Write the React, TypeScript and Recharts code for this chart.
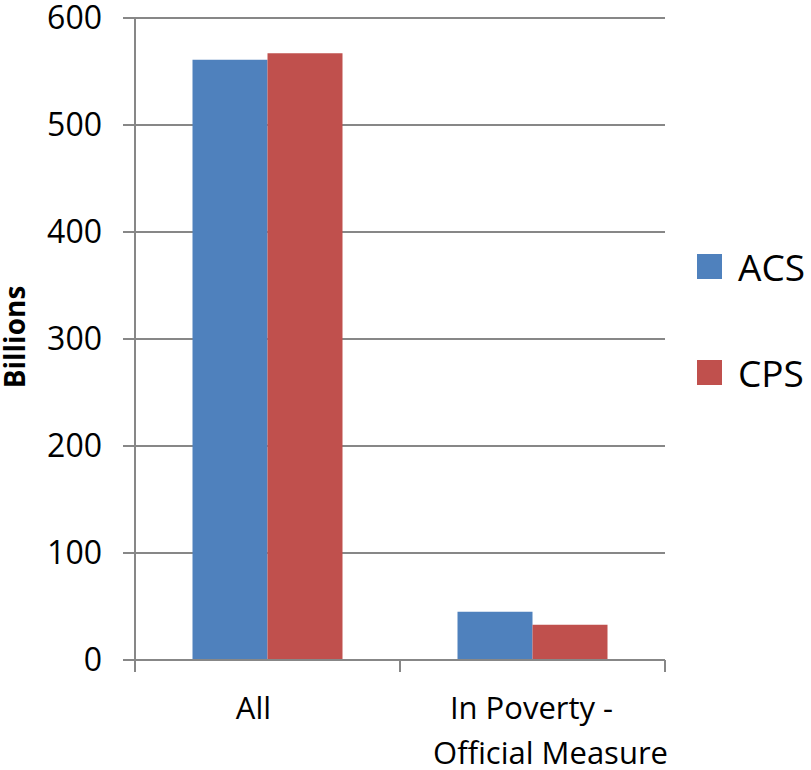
import { BarChart, Bar, XAxis, YAxis, CartesianGrid, Legend } from 'recharts'

// ── Data ─────────────────────────────────────────────────────────────────────

const categories = ['All', 'In Poverty -\nOfficial Measure']
const acsValues = [561, 45]
const cpsValues = [567, 33]
const yTicks = [0, 100, 200, 300, 400, 500, 600]

const chartData = categories.map((name, i) => ({
  name,
  ACS: acsValues[i],
  CPS: cpsValues[i],
}))

// ── Styles ───────────────────────────────────────────────────────────────────

const FONT = '"Open Sans", "Noto Sans", sans-serif'
const AXIS_GRAY = '#878787'
const ACS_BLUE = '#4F81BD'
const CPS_RED = '#C0504D'

// small nudges so the wrapped labels sit where the original's did
const lineShift: Record<string, number> = {
  All: -14,
  'In Poverty -': -1,
  'Official Measure': 18,
}

// ── Custom pieces ────────────────────────────────────────────────────────────

function CategoryTick(props: any) {
  const { x, y, payload, index, visibleTicksCount } = props
  const half = payload?.offset ?? 132.5
  const lines = String(payload.value).split('\n')
  const isLast = index === (visibleTicksCount ?? categories.length) - 1
  return (
    <g>
      <line x1={x - half} x2={x - half} y1={y} y2={y + 12} stroke={AXIS_GRAY} strokeWidth={2} />
      {isLast && (
        <line x1={x + half} x2={x + half} y1={y} y2={y + 12} stroke={AXIS_GRAY} strokeWidth={2} />
      )}
      {lines.map((line, i) => (
        <text
          key={line}
          x={x + (lineShift[line] ?? 0)}
          y={y + 59 + i * 45}
          textAnchor="middle"
          fontFamily={FONT}
          fontSize={31}
          fill="#000"
        >
          {line}
        </text>
      ))}
    </g>
  )
}

function AxisTitle(props: any) {
  const vb = props.viewBox ?? { x: 0, y: 18, width: 135, height: 642 }
  const cy = vb.y + vb.height / 2 - 2
  return (
    <text
      x={25}
      y={cy}
      transform={`rotate(-90 25 ${cy})`}
      textAnchor="middle"
      fontFamily={FONT}
      fontWeight={700}
      fontSize={28}
      fill="#000"
    >
      Billions
    </text>
  )
}

function LegendBox(props: any) {
  const items = props.payload ?? []
  return (
    <div style={{ display: 'flex', flexDirection: 'column', fontFamily: FONT }}>
      {items.map((item: any) => (
        <div key={item.value} style={{ height: 106, display: 'flex', alignItems: 'center' }}>
          <div style={{ width: 25, height: 25, background: item.color }} />
          <span style={{ marginLeft: 16, fontSize: 37, lineHeight: 1, color: '#000' }}>{item.value}</span>
        </div>
      ))}
    </div>
  )
}

// ── Component ────────────────────────────────────────────────────────────────

export default function App() {
  return (
    <div style={{ position: 'absolute', left: 0, top: 0, width: 811, height: 770, background: '#fff' }}>
      <BarChart
        width={811}
        height={770}
        data={chartData}
        margin={{ top: 18, right: 146, bottom: 0, left: 0 }}
        barCategoryGap="21.7%"
        barGap={0}
      >
        <CartesianGrid vertical={false} stroke={AXIS_GRAY} strokeWidth={2} />
        <XAxis
          dataKey="name"
          axisLine={{ stroke: AXIS_GRAY, strokeWidth: 2 }}
          tickLine={false}
          tickSize={0}
          tickMargin={0}
          interval={0}
          height={110}
          tick={<CategoryTick />}
        />
        <YAxis
          width={135}
          domain={[0, 600]}
          ticks={yTicks}
          interval={0}
          axisLine={{ stroke: AXIS_GRAY, strokeWidth: 2 }}
          tickLine={{ stroke: AXIS_GRAY, strokeWidth: 2 }}
          tickSize={12}
          tickMargin={21}
          tick={{ fontSize: 32, fill: '#000', fontFamily: FONT }}
          label={<AxisTitle />}
        />
        <Legend
          layout="vertical"
          align="center"
          verticalAlign="middle"
          wrapperStyle={{ left: 697, top: 213, width: 114 }}
          content={<LegendBox />}
        />
        <Bar dataKey="ACS" fill={ACS_BLUE} isAnimationActive={false} />
        <Bar dataKey="CPS" fill={CPS_RED} isAnimationActive={false} />
      </BarChart>
    </div>
  )
}
